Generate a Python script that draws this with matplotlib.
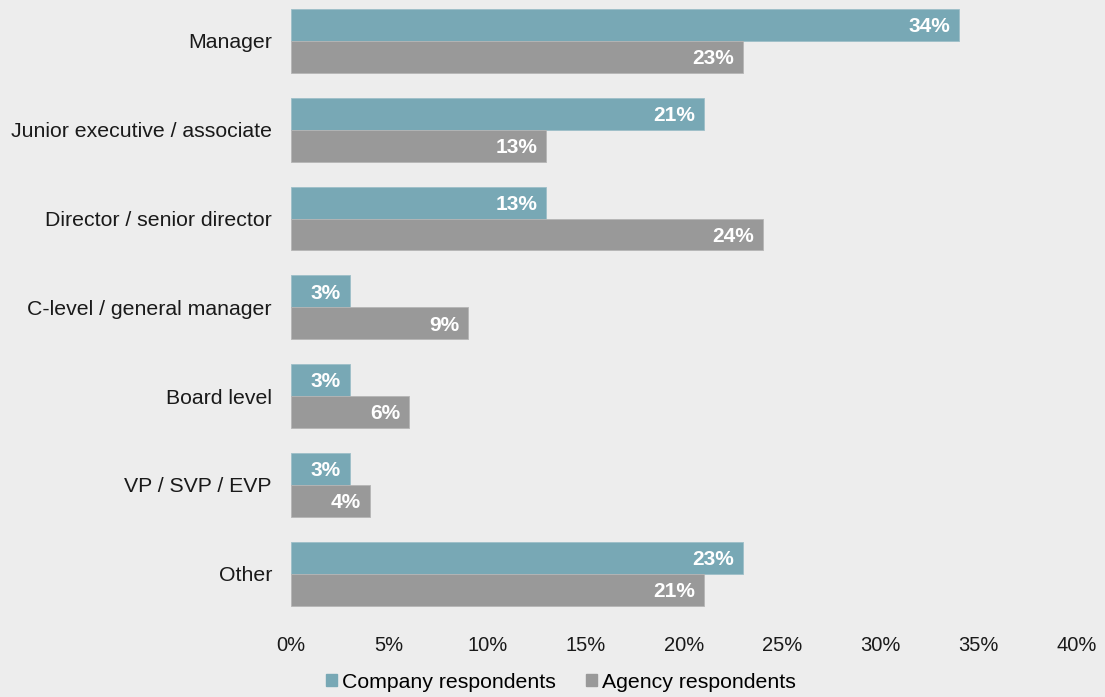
import matplotlib
matplotlib.use("Agg")
import matplotlib.pyplot as plt
import numpy as np
from matplotlib.ticker import FuncFormatter
from matplotlib.patches import Patch

plt.rcParams['font.family'] = ['Liberation Sans', 'DejaVu Sans']

categories = ["Manager", "Junior executive / associate", "Director / senior director",
              "C-level / general manager", "Board level", "VP / SVP / EVP", "Other"]
company = [34, 21, 13, 3, 3, 3, 23]
agency = [23, 13, 24, 9, 6, 4, 21]
series_names = ["Company respondents", "Agency respondents"]
xticks = [0, 5, 10, 15, 20, 25, 30, 35, 40]

bg = "#ededed"
c_company = "#78a8b5"
c_agency = "#999999"

fig = plt.figure(figsize=(11.05, 6.97), dpi=100, facecolor=bg)
W, H = 1105, 697
left, right = 291, 1077
top_px, bot_px = -3.4, 618
ax = fig.add_axes([left / W, (H - bot_px) / H, (right - left) / W, (bot_px - top_px) / H])
ax.set_facecolor(bg)

y = np.arange(len(categories))
bh = 0.36
ax.barh(y - bh / 2, company, height=bh, color=c_company, edgecolor="#9dbfc8", linewidth=0.6)
ax.barh(y + bh / 2, agency, height=bh, color=c_agency, edgecolor="#b5b5b5", linewidth=0.6)

for yi, v in zip(y, company):
    ax.text(v - 0.45, yi - bh / 2 + 0.02, f"{v}%", ha="right", va="center", color="white",
            fontsize=15, fontweight="bold")
for yi, v in zip(y, agency):
    ax.text(v - 0.45, yi + bh / 2 + 0.02, f"{v}%", ha="right", va="center", color="white",
            fontsize=15, fontweight="bold")

ax.set_xlim(0, 40)
ax.set_ylim(len(categories) - 0.5, -0.5)
ax.set_yticks(y)
ax.set_yticklabels(categories, fontsize=15.3, color="#1a1a1a")
ax.set_xticks(xticks)
ax.xaxis.set_major_formatter(FuncFormatter(lambda v, p: f"{int(v)}%"))
ax.tick_params(axis="x", labelsize=14.5, length=0, pad=13, colors="#1a1a1a")
ax.tick_params(axis="y", length=0, pad=13.7)
for s in ax.spines.values():
    s.set_visible(False)

handles = [Patch(color=c_company, label=series_names[0]),
           Patch(color=c_agency, label=series_names[1])]
fig.legend(handles=handles, loc="center", bbox_to_anchor=(561 / W, 1 - 682 / H), ncol=2,
           frameon=False, fontsize=15.3, handlelength=0.5, handleheight=0.5,
           handletextpad=0.25, columnspacing=1.4, borderpad=0)

fig.savefig("out.png", dpi=100, facecolor=bg)
